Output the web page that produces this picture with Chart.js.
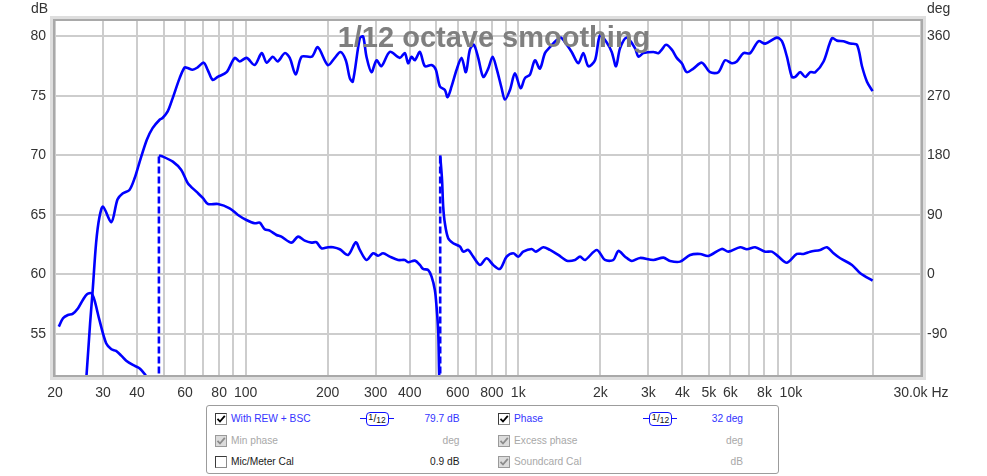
<!DOCTYPE html>
<html><head><meta charset="utf-8">
<script src="https://cdn.jsdelivr.net/npm/chart.js@4/dist/chart.umd.min.js"></script>
<style>
html,body{margin:0;padding:0;background:#fff;}
#wrap{position:relative;width:987px;height:476px;overflow:hidden;font-family:"Liberation Sans",Arial,sans-serif;}
#c{position:absolute;left:0;top:0;}
#legend{position:absolute;left:206px;top:405px;width:573px;height:69px;border:1px solid #9c9c9c;border-radius:3px;box-sizing:border-box;background:#fff;}
.t{position:absolute;font-size:10.2px;line-height:12px;white-space:nowrap;}
.r{text-align:right;}
.blue{color:#3434ff;}
.gray{color:#a8a8a8;}
.blk{color:#1a1a1a;}
.cb{position:absolute;width:12px;height:12px;box-sizing:border-box;border:1px solid #8a8a8a;border-top-color:#3a3a3a;border-left-color:#3a3a3a;background:#fff;}
.cb.dis{background:#dcdcdc;border-color:#9a9a9a;}
.cb svg{position:absolute;left:0;top:0;}
.sm{position:absolute;height:14px;}
.sm .ln{position:absolute;top:6px;height:1.5px;background:#1010ff;}
.sm .bx{position:absolute;top:0;height:14px;box-sizing:border-box;border:1.6px solid #1010ff;border-radius:4px;background:#fff;color:#111;font-size:9px;line-height:12px;text-align:center;}
</style></head>
<body>
<div id="wrap">
<canvas id="c" width="987" height="476"></canvas>
<div id="legend"></div>
<div id="items"></div>
</div>
<script>
// ---------------- data ----------------
const splFreq = [25.8,26.1,26.9,27.5,28.3,29.1,30.0,32.2,33.9,35.4,37.5,39.2,40.8,43.4,45.6,48.4,49.6,51.8,54.0,57.3,59.8,61.3,63.9,66.7,70.2,72.6,75.7,79.0,85.2,91.2,95.1,100.9,108,114.6,119.5,125.8,131.2,139.2,145.2,152.7,160.6,174.9,184,200.2,212.4,222.8,233.1,241.1,247.3,262.4,269.8,277.6,289.6,302.1,315.1,338.1,367.9,383.8,394.7,406.2,417.7,435.7,454.5,481.0,498.8,516.0,538.2,550.6,569.5,594.2,619.8,642.7,664.8,687.7,713.2,743.9,776.1,805.4,833.1,869.0,893.6,932.2,972.5,1020,1058,1104,1151,1201,1253,1307,1384,1435,1506,1570,1661,1733,1807,1912,1995,2111,2202,2284,2362,2500,2682,2758,2877,3131,3266,3361,3485,3657,3815,3980,4152,4389,4714,5054,5421,5737,6072,6334,6699,7089,7604,8049,8884,9268,9668,10085,10370,10818,11285,11772,12281,13176,14141,14753,15602,16510,17474,18227,19011,19933];
const splDB = [50.5,51.55,55.9,58.7,62.65,64.8,65.7,64.4,66.3,66.8,67.1,68.1,69.4,71.3,72.3,73.0,73.15,73.7,74.8,76.5,77.4,77.35,77.2,77.4,77.8,77.2,76.35,76.6,77.0,78.2,77.9,78.2,77.6,78.6,77.8,78.3,77.9,78.6,78.2,76.8,78.3,78.3,79.1,77.6,78.2,78.7,78.0,76.5,76.2,79.85,80.0,78.3,77.0,78.0,77.5,78.7,78.2,78.6,77.75,78.3,78.0,78.7,77.5,77.6,77.2,75.8,75.5,74.9,75.8,77.2,78.2,77.0,78.9,79.3,78.2,76.6,77.3,78.3,77.3,75.65,74.7,75.5,76.9,75.65,76.5,76.8,78.0,77.3,78.6,79.1,79.7,79.9,79.3,78.7,77.75,78.6,77.5,78.0,80.1,79.5,78.7,77.5,79.0,79.9,79.0,78.3,78.6,78.7,78.6,78.9,79.3,78.9,78.2,77.75,77.0,77.3,77.8,77.0,77.0,78.0,77.75,77.9,78.6,78.6,79.6,79.4,79.9,79.6,78.3,76.6,76.6,77.0,76.6,77.0,77.0,77.9,79.85,79.65,79.6,79.4,79.3,77.5,76.2,75.4];

const phaseFreq = [20.65,21.4,22.3,23.2,24.3,25.3,26.2,27.2,27.9,29.1,30.8,32.2,33.5,35.0,36.5,38.6,40.8,42.9,48.1,48.1,49.8,54.1,58.1,61.4,66.0,69.8,72.8,79.2,87.4,93.8,100.7,108.0,112.7,117.5,122.6,129.8,135.3,147.3,155.7,164.8,174.4,181.9,189.8,200.7,209.4,221.5,237.6,253.6,262.4,277.6,293.6,306.2,319.4,338.1,362.6,383.8,394.7,417.7,435.7,447.9,467.3,481.0,494.5,501.6,508.5,512.9,517.3,517.3,525.5,530.6,538.2,553.4,577.3,611.0,628.3,655.4,683.6,723.4,765.6,809.4,856.6,906.6,958.6,1000,1043,1120,1161,1235,1307,1402,1506,1615,1685,1758,1940,2081,2232,2329,2465,2609,2798,3131,3407,3605,3923,4269,4645,4983,5579,5902,6515,6894,7394,8049,8516,9005,9668,10520,11124,11772,12810,13557,14335,15170,16749,17970,19933];
const phaseDeg = [-79,-66.3,-61.3,-59.7,-51.1,-38.6,-29.9,-28.4,-38.6,-68.8,-104.1,-113.1,-115.7,-122.8,-130.4,-136.9,-141.9,-152,-180,180,178.2,170.6,158.1,138,125.2,115.3,106.6,106.6,100.1,90,82.4,77.4,78.3,68.4,66.3,59.7,57.2,48.1,57.2,51.1,48.1,48.7,39.6,41.1,41.1,38.1,29.5,48.7,37.1,21.9,32.1,28.4,32.1,26.9,21.9,21.9,18.5,20.9,14.4,8.3,6.8,-3.3,-23.4,-48.7,-83.9,-152,-180,180,142.9,102.6,77.4,54.8,47.2,42.1,34.5,37.1,26.9,14.4,24.5,14.4,8.3,26.9,32.1,26.9,34.5,38.6,34.5,41.1,37.1,29.5,20.9,21.9,26.9,21.9,37.1,21.9,21.9,35.6,26.9,20.4,25,21.9,25.4,20.4,19.4,29.5,31.0,28,38.6,34.5,41.1,38.1,41.1,34.5,34.5,26.9,17.8,31.0,31.0,34.5,37.1,41.1,32.1,24.5,14.4,1.8,-9.4];

const yTicksDB = [55,60,65,70,75,80];
const yTicksDeg = [-90,0,90,180,270,360];
const xGridHz = [20,30,40,50,60,70,80,90,100,200,300,400,500,600,700,800,900,1000,2000,3000,4000,5000,6000,7000,8000,9000,10000,20000,30000];
const xTickText = ['20','30','40','','60','','80','','100','200','300','400','','600','','800','','1k','2k','3k','4k','5k','6k','','8k','','10k','','30.0k Hz'];

const titleText = '1/12 octave smoothing';
const legendRows = [
  [{t:'With REW + BSC',c:'blue',cb:'on',sm:true,v:'79.7 dB'},{t:'Phase',c:'blue',cb:'on',sm:true,v:'32 deg'}],
  [{t:'Min phase',c:'gray',cb:'dis',v:'deg'},{t:'Excess phase',c:'gray',cb:'dis',v:'deg'}],
  [{t:'Mic/Meter Cal',c:'blk',cb:'off',v:'0.9 dB'},{t:'Soundcard Cal',c:'gray',cb:'dis',v:'dB'}]
];

// ---------------- layout constants ----------------
const DB_MIN = 51.55, DB_MAX = 81.3;
const FONT = '"Liberation Sans", Arial, sans-serif';
const BLUE = '#0000ff';

// split wrapped phase into solid runs and dashed wrap connectors
const phasePts = phaseFreq.map((f,i)=>({x:f,y:phaseDeg[i]}));
const phaseRuns = [[]], wraps = [];
phasePts.forEach((p,i)=>{
  if (i>0 && Math.abs(p.y - phasePts[i-1].y) > 300) {
    wraps.push([phasePts[i-1], p]);
    phaseRuns.push([]);
  }
  phaseRuns[phaseRuns.length-1].push(p);
});

const overlay = {
  id:'overlay',
  afterDatasetsDraw(chart){
    const ctx = chart.ctx, a = chart.chartArea;
    ctx.save();
    ctx.font = 'bold 29px ' + FONT;
    ctx.fillStyle = '#7f7f7f';
    ctx.textAlign = 'center';
    ctx.textBaseline = 'alphabetic';
    ctx.fillText(titleText, 494, 47);
    ctx.strokeStyle = '#dedede'; ctx.lineWidth = 3;
    ctx.strokeRect(a.left-3.5, a.top-3.5, a.right-a.left+7, a.bottom-a.top+7);
    ctx.strokeStyle = '#a9a9a9'; ctx.lineWidth = 2;
    ctx.strokeRect(a.left-1, a.top-1, a.right-a.left+2, a.bottom-a.top+2);
    ctx.font = '14px ' + FONT;
    ctx.fillStyle = '#333';
    ctx.textAlign = 'right';
    ctx.fillText('dB', 48, 13);
    ctx.textAlign = 'left';
    ctx.fillText('deg', 927, 13);
    ctx.restore();
  }
};

const lineBase = {borderColor:BLUE, borderWidth:2.6, pointRadius:0, clip:0, fill:false};
const datasets = [
  Object.assign({label:'With REW + BSC', data: splFreq.map((f,i)=>({x:f,y:splDB[i]})), yAxisID:'y', tension:0.3}, lineBase)
];
phaseRuns.forEach(run => datasets.push(Object.assign({label:'Phase', data:run, yAxisID:'y2', tension:0.3}, lineBase)));
wraps.forEach(w => datasets.push(Object.assign({label:'Phase wrap', data:w, yAxisID:'y2', tension:0, borderDash:[7,3]}, lineBase)));

const gridCol = '#cdcdcd';
new Chart(document.getElementById('c'), {
  type:'line',
  data:{datasets},
  options:{
    responsive:false, animation:false, devicePixelRatio:1,
    layout:{padding:{top:21,left:0,right:0,bottom:0}},
    plugins:{legend:{display:false}, tooltip:{enabled:false}},
    scales:{
      x:{type:'logarithmic', min:20, max:30000,
         afterBuildTicks: s => { s.ticks = xGridHz.map(v=>({value:v})); },
         afterFit: s => { s.height = 101; },
         ticks:{autoSkip:false, maxRotation:0, minRotation:0, padding:10, color:'#333',
                font:{size:14, family:FONT}, callback:(v,i)=> xTickText[i]},
         grid:{color:gridCol, lineWidth:2, drawTicks:false}, border:{display:false}},
      y:{position:'left', min:DB_MIN, max:DB_MAX,
         afterBuildTicks: s => { s.ticks = yTicksDB.map(v=>({value:v})); },
         afterFit: s => { s.width = 55; },
         ticks:{padding:9, color:'#333', font:{size:14, family:FONT}},
         grid:{color:gridCol, lineWidth:2, drawTicks:false}, border:{display:false}},
      y2:{position:'right', min:(DB_MIN-60)*18, max:(DB_MAX-60)*18,
         afterBuildTicks: s => { s.ticks = yTicksDeg.map(v=>({value:v})); },
         afterFit: s => { s.width = 66; },
         ticks:{padding:6, color:'#333', font:{size:14, family:FONT}},
         grid:{drawOnChartArea:false, drawTicks:false}, border:{display:false}}
    }
  },
  plugins:[overlay]
});

// ---------------- legend panel ----------------
const items = document.getElementById('items');
const rowY = [418.7, 440.7, 462.3];
const colX = [{cb:214.5, t:231, sm:359.5, vr:459.5},{cb:497.5, t:514, sm:643, vr:743}];
const checkSVG = col => '<svg width="10" height="10" viewBox="0 0 10 10"><path d="M1.5 4.8 L4 7.5 L8.8 1.8" fill="none" stroke="'+col+'" stroke-width="1.8"/></svg>';
function add(html){ items.insertAdjacentHTML('beforeend', html); }
legendRows.forEach((row, ri) => {
  const cy = rowY[ri];
  row.forEach((it, ci) => {
    const c = colX[ci];
    const cls = it.cb === 'dis' ? 'cb dis' : 'cb';
    const chk = it.cb === 'on' ? checkSVG('#000') : (it.cb === 'dis' ? checkSVG('#8c8c8c') : '');
    add('<div class="'+cls+'" style="left:'+c.cb+'px;top:'+(cy-6)+'px">'+chk+'</div>');
    add('<div class="t '+it.c+'" style="left:'+c.t+'px;top:'+(cy-6)+'px">'+it.t+'</div>');
    add('<div class="t r '+it.c+'" style="right:'+(987-c.vr)+'px;top:'+(cy-6)+'px">'+it.v+'</div>');
    if (it.sm) {
      add('<div class="sm" style="left:'+c.sm+'px;top:'+(cy-7)+'px;width:34px">'+
          '<div class="ln" style="left:0;width:34px"></div>'+
          '<div class="bx" style="left:6px;width:23px"><span style="font-size:9px;position:relative;top:-2px">1</span><span style="font-size:10px">/</span><span style="font-size:8.5px;position:relative;top:1.5px">12</span></div></div>');
    }
  });
});
</script>
</body></html>
